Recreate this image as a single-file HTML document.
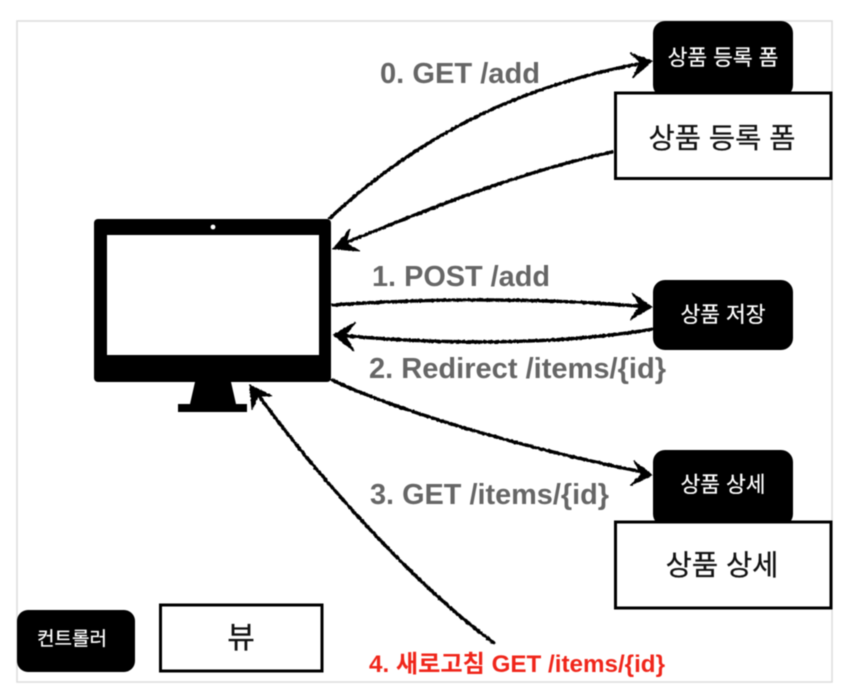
<!DOCTYPE html>
<html>
<head>
<meta charset="utf-8">
<style>
html,body{margin:0;padding:0;background:#fff;}
svg{display:block;}
text{font-family:"Liberation Sans","Noto Sans CJK KR",sans-serif;}
.g{font-weight:700;font-size:28.5px;fill:#666;}
.w{fill:#fff;stroke:#fff;stroke-width:.25;text-anchor:middle;font-size:21.5px;}
.k{fill:#111;stroke:#111;stroke-width:.3;text-anchor:middle;font-size:28.5px;}
.l{fill:none;stroke:#000;stroke-width:3.4;stroke-linecap:round;}
.b{fill:#000;stroke:#000;stroke-width:1;}
</style>
</head>
<body>
<svg width="865" height="695" viewBox="0 0 865 695" xmlns="http://www.w3.org/2000/svg" style="filter:blur(.5px)">
<defs>
<filter id="r" x="-5%" y="-5%" width="110%" height="110%">
<feTurbulence type="fractalNoise" baseFrequency="0.35" numOctaves="2" seed="4"/>
<feDisplacementMap in="SourceGraphic" scale="2.2" xChannelSelector="R" yChannelSelector="G"/>
</filter>
</defs>
<rect x="17" y="21" width="815" height="661" fill="#fff" stroke="#dcdcdc" stroke-width="1.5"/>

<!-- monitor -->
<rect x="94" y="219" width="237" height="163" rx="4" fill="#000"/>
<rect x="107" y="235" width="212" height="120" fill="#fff"/>
<circle cx="213" cy="227" r="2.4" fill="#fff"/>
<path d="M195 382H231L236 404H247V412H178V404H190Z" fill="#000"/>

<!-- boxes -->
<rect x="653" y="21" width="140" height="76" rx="12" fill="#000"/>
<rect x="615.5" y="93" width="215.5" height="85.5" fill="#fff" stroke="#000" stroke-width="3"/>
<rect x="653" y="280" width="140" height="70" rx="12" fill="#000"/>
<rect x="653" y="450" width="140" height="76" rx="12" fill="#000"/>
<rect x="615.5" y="522" width="215.5" height="86" fill="#fff" stroke="#000" stroke-width="3"/>
<rect x="17" y="610" width="118" height="62" rx="11" fill="#000"/>
<rect x="160.5" y="605" width="161.5" height="66" fill="#fff" stroke="#000" stroke-width="3"/>

<!-- connectors -->
<g filter="url(#r)">
<path class="l" d="M330 218C420 135 520 85 648 62"/>
<path class="b" d="M652 61L630 53L640 62L633 78Z"/>
<path class="l" d="M612 152C520 172 430 208 338 246"/>
<path class="b" d="M333 249L350 229L346 243L360 251Z"/>
<path class="l" d="M333 305C430 298 550 298 648 307"/>
<path class="b" d="M652 307L632 293L640 306L630 320Z"/>
<path class="l" d="M653 329C560 345 440 345 338 335"/>
<path class="b" d="M333 335L356 322L345 335L354 351Z"/>
<path class="l" d="M332 380C400 412 530 450 648 473"/>
<path class="b" d="M652 475L634 461L641 474L630 486Z"/>
<path class="l" d="M494 643C415 585 320 480 256 392"/>
<path class="b" d="M250 385L272 396L258 396L252 410Z"/>
</g>

<!-- labels -->
<text class="g" x="380" y="83" textLength="160" lengthAdjust="spacingAndGlyphs">0. GET /add</text>
<text class="g" x="372" y="286" textLength="178" lengthAdjust="spacingAndGlyphs">1. POST /add</text>
<text class="g" x="369" y="378" textLength="297" lengthAdjust="spacingAndGlyphs">2. Redirect /items/{id}</text>
<text class="g" x="370" y="504" textLength="239" lengthAdjust="spacingAndGlyphs">3. GET /items/{id}</text>
<text x="369" y="672" textLength="296" lengthAdjust="spacingAndGlyphs" style="font-weight:700;font-size:24px;fill:#f0261b;">4. 새로고침 GET /items/{id}</text>

<text class="w" x="723" y="65">상품 등록 폼</text>
<text class="k" x="722" y="148">상품 등록 폼</text>
<text class="w" x="723" y="322">상품 저장</text>
<text class="w" x="723" y="492">상품 상세</text>
<text class="k" x="722" y="575">상품 상세</text>
<text class="w" x="72" y="645" style="font-size:19px">컨트롤러</text>
<text class="k" x="241" y="648" style="font-size:30px">뷰</text>
</svg>
</body>
</html>
